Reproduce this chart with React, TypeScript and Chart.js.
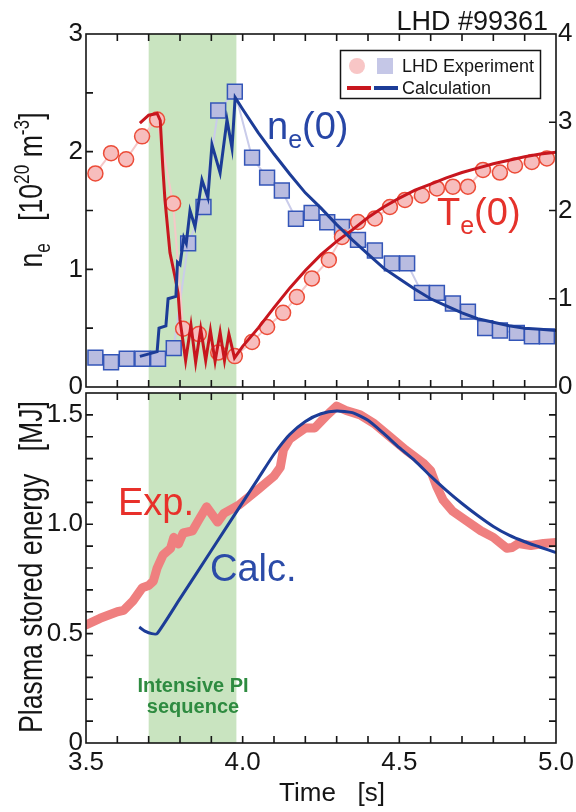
import { useEffect, useRef } from "react";
import { Chart, registerables } from "chart.js";

Chart.register(...registerables);

const FONT = '"Liberation Sans", Arial, Helvetica, sans-serif';

// ---- Experiment: central electron density n_e(0) [10^20 m^-3]
const neExpTime = [3.53, 3.58, 3.63, 3.68, 3.73, 3.78, 3.826, 3.875, 3.922, 3.975, 4.03, 4.078, 4.125, 4.17, 4.22, 4.27, 4.317, 4.368, 4.422, 4.476, 4.525, 4.572, 4.62, 4.671, 4.719, 4.774, 4.821, 4.875, 4.923, 4.971];
const neExpValue = [0.25, 0.21, 0.24, 0.24, 0.24, 0.33, 1.22, 1.53, 2.35, 2.51, 1.95, 1.78, 1.67, 1.43, 1.48, 1.4, 1.36, 1.25, 1.16, 1.05, 1.05, 0.8, 0.8, 0.71, 0.64, 0.5, 0.48, 0.46, 0.43, 0.43];

// ---- Experiment: central electron temperature T_e(0) [keV]
const teExpTime = [3.53, 3.58, 3.628, 3.679, 3.727, 3.778, 3.81, 3.86, 3.922, 3.975, 4.03, 4.078, 4.129, 4.173, 4.221, 4.275, 4.317, 4.368, 4.422, 4.47, 4.518, 4.572, 4.62, 4.671, 4.719, 4.767, 4.821, 4.869, 4.923, 4.971];
const teExpValue = [2.42, 2.65, 2.58, 2.84, 3.03, 2.08, 0.66, 0.6, 0.39, 0.35, 0.51, 0.68, 0.84, 1.02, 1.23, 1.44, 1.7, 1.87, 1.91, 2.04, 2.12, 2.17, 2.25, 2.27, 2.27, 2.46, 2.43, 2.51, 2.55, 2.59];

// ---- Calculation: n_e(0)
const neCalcTime = [3.672, 3.727, 3.733, 3.755, 3.762, 3.787, 3.792, 3.8, 3.812, 3.82, 3.832, 3.848, 3.87, 3.889, 3.902, 3.928, 3.95, 3.966, 3.976, 4.0, 4.05, 4.1, 4.15, 4.2, 4.25, 4.3, 4.35, 4.4, 4.45, 4.5, 4.55, 4.6, 4.65, 4.7, 4.75, 4.8, 4.85, 4.9, 4.95, 5.0];
const neCalcValue = [0.26, 0.3, 0.5, 0.52, 0.75, 0.77, 1.06, 1.04, 1.27, 1.22, 1.5, 1.36, 1.76, 1.61, 2.06, 1.82, 2.27, 2.03, 2.46, 2.36, 2.16, 1.98, 1.81, 1.65, 1.52, 1.38, 1.25, 1.13, 1.01, 0.92, 0.83, 0.75, 0.69, 0.63, 0.58, 0.55, 0.52, 0.5, 0.49, 0.48];

// ---- Calculation: T_e(0)
const teCalcTime = [3.672, 3.7, 3.727, 3.737, 3.745, 3.752, 3.768, 3.784, 3.794, 3.8, 3.818, 3.835, 3.85, 3.866, 3.882, 3.897, 3.912, 3.928, 3.942, 3.956, 3.974, 4.0, 4.05, 4.1, 4.15, 4.2, 4.25, 4.3, 4.35, 4.4, 4.45, 4.5, 4.55, 4.6, 4.65, 4.7, 4.75, 4.8, 4.85, 4.9, 4.95, 5.0];
const teCalcValue = [2.99, 3.08, 3.1, 3.02, 2.5, 2.12, 1.52, 1.25, 1.06, 0.76, 0.3, 0.7, 0.28, 0.66, 0.3, 0.64, 0.29, 0.62, 0.3, 0.6, 0.33, 0.46, 0.67, 0.9, 1.12, 1.32, 1.5, 1.65, 1.78, 1.92, 2.04, 2.14, 2.23, 2.3, 2.37, 2.43, 2.48, 2.53, 2.57, 2.61, 2.64, 2.66];

// ---- Plasma stored energy [MJ]
const wExpTime = [3.5, 3.545, 3.6, 3.62, 3.65, 3.68, 3.7, 3.715, 3.727, 3.746, 3.77, 3.78, 3.795, 3.81, 3.84, 3.86, 3.885, 3.9, 3.92, 3.94, 3.99, 4.05, 4.1, 4.12, 4.13, 4.15, 4.17, 4.2, 4.23, 4.25, 4.27, 4.3, 4.33, 4.375, 4.42, 4.47, 4.52, 4.576, 4.6, 4.62, 4.64, 4.67, 4.71, 4.76, 4.8, 4.843, 4.86, 4.88, 4.92, 4.96, 5.0];
const wExpValue = [0.54, 0.57, 0.6, 0.606, 0.65, 0.71, 0.72, 0.74, 0.8, 0.86, 0.89, 0.94, 0.91, 0.96, 0.97, 1.02, 1.08, 1.05, 1.01, 1.05, 1.09, 1.16, 1.22, 1.26, 1.34, 1.39, 1.41, 1.44, 1.44, 1.47, 1.5, 1.54, 1.52, 1.5, 1.46, 1.4, 1.34, 1.28, 1.245, 1.17, 1.11, 1.06, 1.02, 0.97, 0.94, 0.89, 0.894, 0.912, 0.903, 0.912, 0.917];
const wCalcTime = [3.67, 3.69, 3.71, 3.727, 3.8, 3.9, 4.0, 4.05, 4.1, 4.15, 4.2, 4.25, 4.3, 4.35, 4.4, 4.45, 4.5, 4.55, 4.6, 4.65, 4.7, 4.75, 4.8, 4.85, 4.9, 4.95, 5.0];
const wCalcValue = [0.53, 0.51, 0.5, 0.5, 0.66, 0.88, 1.1, 1.21, 1.32, 1.41, 1.47, 1.505, 1.518, 1.51, 1.475, 1.415, 1.35, 1.29, 1.22, 1.155, 1.095, 1.04, 0.99, 0.95, 0.92, 0.895, 0.87];

// ---- Axes
const timeTicks = [3.5, 4.0, 4.5, 5.0];
const neTicks = [0, 1, 2, 3];
const teTicks = [0, 1, 2, 3, 4];
const wTicks = [0, 0.5, 1.0, 1.5];
const pelletWindow = [3.7, 3.98];

const BAND = "#C9E4C0";
const BLUE = "#1C3C97";
const RED = "#C8161E";
const EXP_W = "#EF7F7F";
const CIRCLE_FILL = "#F7BDBD";
const CIRCLE_EDGE = "#EC4C38";
const SQUARE_FILL = "#B9BCE0";
const SQUARE_EDGE = "#3456B8";
const INK = "#151515";

type Seg = { t: string; size: number; dy?: number; weight?: string };

function pts(xs: number[], ys: number[]) {
  return xs.map((x, i) => ({ x, y: ys[i] }));
}

function setFont(ctx: CanvasRenderingContext2D, s: Seg) {
  ctx.font = `${s.weight || "normal"} ${s.size}px ${FONT}`;
}

function drawRich(
  ctx: CanvasRenderingContext2D,
  segs: Seg[],
  x: number,
  y: number,
  color: string,
  align: "left" | "center" | "right" = "left",
  rotate = 0,
  sx = 1,
  sy = 1
) {
  ctx.save();
  ctx.translate(x, y);
  if (rotate) ctx.rotate(rotate);
  ctx.scale(sx, sy);
  let w = 0;
  for (const s of segs) {
    setFont(ctx, s);
    w += ctx.measureText(s.t).width;
  }
  let cx = align === "center" ? -w / 2 : align === "right" ? -w : 0;
  ctx.fillStyle = color;
  ctx.textAlign = "left";
  ctx.textBaseline = "alphabetic";
  for (const s of segs) {
    setFont(ctx, s);
    ctx.fillText(s.t, cx, s.dy || 0);
    cx += ctx.measureText(s.t).width;
  }
  ctx.restore();
}

function drawBand(chart: any) {
  const { ctx, chartArea: a, scales } = chart;
  const x0 = scales.x.getPixelForValue(pelletWindow[0]);
  const x1 = scales.x.getPixelForValue(pelletWindow[1]);
  ctx.save();
  ctx.fillStyle = BAND;
  ctx.fillRect(x0, a.top, x1 - x0, a.bottom - a.top);
  ctx.restore();
}

function drawFrameAndTicks(chart: any, yLeft: any, yRight: any, yLeftStep: number, yRightStep: number, yMax: number, yRightMax: number) {
  const { ctx, chartArea: a, scales } = chart;
  const L = 7;
  ctx.save();
  ctx.strokeStyle = INK;
  ctx.lineWidth = 1.6;
  ctx.strokeRect(a.left, a.top, a.right - a.left, a.bottom - a.top);
  ctx.beginPath();
  for (let i = 1; i < 15; i++) {
    const px = scales.x.getPixelForValue(3.5 + i * 0.1);
    ctx.moveTo(px, a.bottom);
    ctx.lineTo(px, a.bottom - L);
    ctx.moveTo(px, a.top);
    ctx.lineTo(px, a.top + L);
  }
  const nl = Math.round(yMax / yLeftStep);
  for (let i = 1; i < nl; i++) {
    const py = yLeft.getPixelForValue(i * yLeftStep);
    ctx.moveTo(a.left, py);
    ctx.lineTo(a.left + L, py);
  }
  const nr = Math.round(yRightMax / yRightStep);
  for (let i = 1; i < nr; i++) {
    const py = yRight.getPixelForValue(i * yRightStep);
    ctx.moveTo(a.right, py);
    ctx.lineTo(a.right - L, py);
  }
  ctx.stroke();
  ctx.restore();
}

const fixedTicks = (vals: number[]) => (s: any) => {
  s.ticks = vals.map((v) => ({ value: v }));
};

const tickFont = { family: FONT, size: 26 };

const topPlugin = {
  id: "densityTemperaturePanel",
  beforeDatasetsDraw(chart: any) {
    drawBand(chart);
  },
  afterDraw(chart: any) {
    const { ctx, scales } = chart;
    drawFrameAndTicks(chart, scales.yNe, scales.yTe, 0.5, 1, 3, 4);

    // shot number
    drawRich(ctx, [{ t: "LHD #99361", size: 27 }], 548, 30, INK, "right");

    // legend
    ctx.save();
    ctx.fillStyle = "#fff";
    ctx.fillRect(340, 50, 200, 48);
    ctx.lineWidth = 1.5;
    ctx.strokeStyle = INK;
    ctx.strokeRect(340.5, 50.5, 200, 48);
    ctx.fillStyle = "#F8C6C6";
    ctx.beginPath();
    ctx.arc(357, 66, 8, 0, Math.PI * 2);
    ctx.fill();
    ctx.fillStyle = "#C5C7E7";
    ctx.fillRect(377, 58, 16, 16);
    ctx.lineWidth = 4;
    ctx.strokeStyle = RED;
    ctx.beginPath();
    ctx.moveTo(347, 88);
    ctx.lineTo(371, 88);
    ctx.stroke();
    ctx.strokeStyle = BLUE;
    ctx.beginPath();
    ctx.moveTo(374, 88);
    ctx.lineTo(398, 88);
    ctx.stroke();
    ctx.restore();
    drawRich(ctx, [{ t: "LHD Experiment", size: 18 }], 402, 72, INK);
    drawRich(ctx, [{ t: "Calculation", size: 18 }], 402, 94, INK);

    // curve labels
    drawRich(ctx, [{ t: "n", size: 38 }, { t: "e", size: 25, dy: 9 }, { t: "(0)", size: 38 }], 267, 139, "#2746A6");
    drawRich(ctx, [{ t: "T", size: 38 }, { t: "e", size: 25, dy: 9 }, { t: "(0)", size: 38 }], 437, 225, "#E5322B");

    // y-axis title
    drawRich(
      ctx,
      [
        { t: "n", size: 31 },
        { t: "e", size: 20, dy: 7 },
        { t: "   [10", size: 31 },
        { t: "20", size: 20, dy: -12 },
        { t: " m", size: 31 },
        { t: "-3", size: 20, dy: -12 },
        { t: "]", size: 31 },
      ],
      42,
      190,
      INK,
      "center",
      -Math.PI / 2,
      0.86,
      1.1
    );
  },
};

const bottomPlugin = {
  id: "storedEnergyPanel",
  beforeDatasetsDraw(chart: any) {
    drawBand(chart);
  },
  afterDraw(chart: any) {
    const { ctx, scales } = chart;
    drawFrameAndTicks(chart, scales.yW, scales.yW, 0.1, 0.1, 1.6, 1.6);

    drawRich(ctx, [{ t: "Exp.", size: 38 }], 118, 125, "#E8302A");
    drawRich(ctx, [{ t: "Calc.", size: 38 }], 210, 191, "#2B4BA8");
    drawRich(ctx, [{ t: "Intensive PI", size: 20, weight: "bold" }], 193, 302, "#2E8B40", "center");
    drawRich(ctx, [{ t: "sequence", size: 20, weight: "bold" }], 193, 323, "#2E8B40", "center");

    drawRich(ctx, [{ t: "Time   [s]", size: 26 }], 332, 411, INK, "center");
    drawRich(ctx, [{ t: "Plasma stored energy   [MJ]", size: 31 }], 42, 177, INK, "center", -Math.PI / 2, 0.86, 1.1);
  },
};

function topConfig(): any {
  return {
    type: "line",
    data: {
      datasets: [
        {
          data: pts(neCalcTime, neCalcValue),
          yAxisID: "yNe",
          borderColor: BLUE,
          borderWidth: 3,
          pointRadius: 0,
          order: 0,
        },
        {
          data: pts(teCalcTime, teCalcValue),
          yAxisID: "yTe",
          borderColor: RED,
          borderWidth: 3,
          pointRadius: 0,
          order: 1,
        },
        {
          data: pts(teExpTime, teExpValue),
          yAxisID: "yTe",
          borderColor: "#F6C8C8",
          borderWidth: 2,
          pointStyle: "circle",
          pointRadius: 7.5,
          pointBackgroundColor: CIRCLE_FILL,
          pointBorderColor: CIRCLE_EDGE,
          pointBorderWidth: 1.5,
          order: 2,
        },
        {
          data: pts(neExpTime, neExpValue),
          yAxisID: "yNe",
          borderColor: "#CACCEA",
          borderWidth: 2,
          pointStyle: "rect",
          pointRadius: 10.5,
          pointBackgroundColor: SQUARE_FILL,
          pointBorderColor: SQUARE_EDGE,
          pointBorderWidth: 1.5,
          order: 3,
        },
      ],
    },
    options: {
      responsive: false,
      animation: false,
      events: [],
      layout: { padding: { top: 34, bottom: 23, left: 0, right: 0 } },
      plugins: { legend: { display: false }, tooltip: { enabled: false } },
      scales: {
        x: { type: "linear", min: 3.5, max: 5.0, display: false },
        yNe: {
          type: "linear",
          position: "left",
          min: 0,
          max: 3,
          afterBuildTicks: fixedTicks(neTicks),
          afterFit: (s: any) => {
            s.width = 86;
            s.paddingTop = 0;
            s.paddingBottom = 0;
          },
          grid: { display: false, drawTicks: false },
          border: { display: false },
          ticks: { font: tickFont, color: INK, padding: 3, autoSkip: false, callback: (v: any) => String(v) },
        },
        yTe: {
          type: "linear",
          position: "right",
          min: 0,
          max: 4,
          afterBuildTicks: fixedTicks(teTicks),
          afterFit: (s: any) => {
            s.width = 20;
            s.paddingTop = 0;
            s.paddingBottom = 0;
          },
          grid: { display: false, drawTicks: false },
          border: { display: false },
          ticks: { font: tickFont, color: INK, padding: 2, autoSkip: false, callback: (v: any) => String(v) },
        },
      },
    },
    plugins: [topPlugin],
  };
}

function bottomConfig(): any {
  return {
    type: "line",
    data: {
      datasets: [
        {
          data: pts(wCalcTime, wCalcValue),
          yAxisID: "yW",
          borderColor: BLUE,
          borderWidth: 3,
          pointRadius: 0,
          tension: 0.2,
          order: 0,
        },
        {
          data: pts(wExpTime, wExpValue),
          yAxisID: "yW",
          borderColor: EXP_W,
          borderWidth: 9,
          borderJoinStyle: "round",
          borderCapStyle: "round",
          pointRadius: 0,
          order: 1,
        },
      ],
    },
    options: {
      responsive: false,
      animation: false,
      events: [],
      layout: { padding: { top: 3, bottom: 0, left: 0, right: 20 } },
      plugins: { legend: { display: false }, tooltip: { enabled: false } },
      scales: {
        x: {
          type: "linear",
          min: 3.5,
          max: 5.0,
          afterBuildTicks: fixedTicks(timeTicks),
          afterFit: (s: any) => {
            s.height = 69;
            s.paddingLeft = 0;
            s.paddingRight = 0;
          },
          grid: { display: false, drawTicks: false },
          border: { display: false },
          ticks: {
            font: tickFont,
            color: INK,
            padding: 4,
            autoSkip: false,
            maxRotation: 0,
            callback: (v: any) => Number(v).toFixed(1),
          },
        },
        yW: {
          type: "linear",
          position: "left",
          min: 0,
          max: 1.6,
          afterBuildTicks: fixedTicks(wTicks),
          afterFit: (s: any) => {
            s.width = 86;
            s.paddingTop = 0;
            s.paddingBottom = 0;
          },
          grid: { display: false, drawTicks: false },
          border: { display: false },
          ticks: {
            font: tickFont,
            color: INK,
            padding: 3,
            autoSkip: false,
            callback: (v: any) => (Number(v) === 0 ? "0" : Number(v).toFixed(1)),
          },
        },
      },
    },
    plugins: [bottomPlugin],
  };
}

export default function App() {
  const topRef = useRef<HTMLCanvasElement>(null);
  const bottomRef = useRef<HTMLCanvasElement>(null);

  useEffect(() => {
    const top = new Chart(topRef.current as HTMLCanvasElement, topConfig());
    const bottom = new Chart(bottomRef.current as HTMLCanvasElement, bottomConfig());
    return () => {
      top.destroy();
      bottom.destroy();
    };
  }, []);

  return (
    <div style={{ position: "absolute", left: 0, top: 0, width: 576, height: 812, background: "#fff", overflow: "hidden" }}>
      <canvas ref={topRef} width={576} height={410} style={{ position: "absolute", left: 0, top: 0 }} />
      <canvas ref={bottomRef} width={576} height={422} style={{ position: "absolute", left: 0, top: 390 }} />
    </div>
  );
}
